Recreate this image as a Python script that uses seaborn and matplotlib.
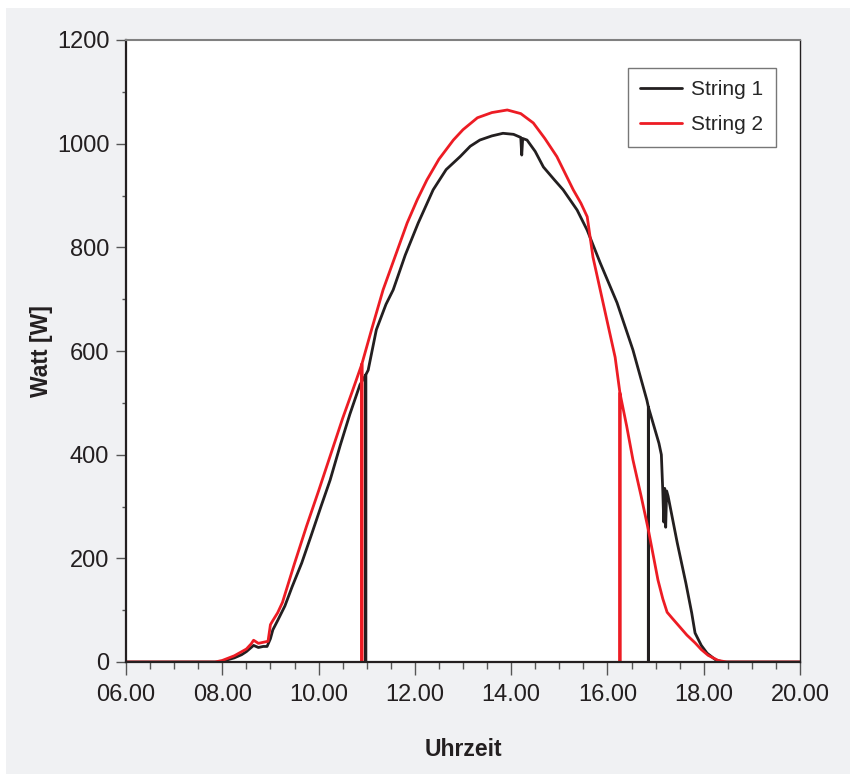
import seaborn as sns, pandas as pd
import matplotlib.pyplot as plt
from matplotlib.patches import Rectangle
from matplotlib.ticker import MultipleLocator

# Uhrzeit (hours) and power readings
time_s1 = [6.0, 7.95, 8.1, 8.25, 8.4, 8.5, 8.6, 8.65, 8.75, 8.85, 8.93, 9.0, 9.05, 9.15, 9.3,
           9.45, 9.65, 9.85, 10.05, 10.24, 10.45, 10.65, 10.86, 10.98, 10.98, 10.98, 11.03,
           11.2, 11.4, 11.55, 11.8, 12.07, 12.38, 12.65, 12.94, 13.15, 13.35, 13.6, 13.83,
           14.05, 14.2, 14.22, 14.24, 14.33, 14.5, 14.67, 14.9, 15.08, 15.37, 15.58, 15.85,
           16.2, 16.53, 16.82, 16.85, 16.85, 16.85, 17.07, 17.12, 17.15, 17.17, 17.19, 17.21,
           17.23, 17.26, 17.45, 17.63, 17.75, 17.82, 17.95, 18.07, 18.25, 18.4, 20.0]
watt_s1 = [0, 0, 4, 8, 14, 20, 28, 32, 28, 30, 30, 45, 62, 80, 108,
           145, 191, 245, 300, 351, 418, 478, 535, 554, 0, 554, 563,
           641, 690, 718, 785, 847, 911, 950, 975, 995, 1007, 1015, 1020,
           1018, 1012, 978, 1010, 1007, 985, 955, 930, 911, 872, 833, 770,
           693, 602, 505, 492, 0, 492, 422, 400, 330, 270, 335, 260,
           330, 320, 230, 152, 95, 56, 32, 17, 4, 0, 0]

time_s2 = [6.0, 7.85, 8.0, 8.25, 8.5, 8.6, 8.65, 8.75, 8.85, 8.95, 9.0, 9.05, 9.15, 9.25,
           9.5, 9.75, 10.0, 10.25, 10.5, 10.7, 10.9, 10.9, 10.9, 11.1, 11.34, 11.6, 11.84,
           12.05, 12.25, 12.5, 12.8, 13.0, 13.3, 13.6, 13.92, 14.2, 14.46, 14.7, 14.95, 15.29,
           15.45, 15.58, 15.7, 15.85, 16.0, 16.16, 16.26, 16.26, 16.26, 16.4, 16.53, 16.7,
           16.85, 17.05, 17.15, 17.24, 17.35, 17.5, 17.65, 17.82, 17.95, 18.09, 18.3, 18.48,
           20.0]
watt_s2 = [0, 0, 3, 12, 25, 35, 42, 36, 38, 40, 72, 80, 95, 115,
           190, 262, 330, 400, 470, 522, 575, 0, 575, 641, 718, 785, 847,
           892, 930, 970, 1007, 1027, 1050, 1060, 1065, 1058, 1040, 1010, 975, 911,
           885, 859, 781, 718, 655, 588, 519, 0, 519, 455, 390, 320,
           255, 158, 122, 96, 84, 68, 52, 37, 24, 13, 3, 0,
           0]

series_names = ["String 1", "String 2"]
series_colors = ["#231f20", "#ed1c24"]

x_ticks = [6, 8, 10, 12, 14, 16, 18, 20]
x_tick_labels = ["06.00", "08.00", "10.00", "12.00", "14.00", "16.00", "18.00", "20.00"]
y_ticks = [0, 200, 400, 600, 800, 1000, 1200]


def compose_data():
    rows = []
    for t, w in zip(time_s1, watt_s1):
        rows.append([series_names[0], t, w])
    for t, w in zip(time_s2, watt_s2):
        rows.append([series_names[1], t, w])
    return pd.DataFrame(rows, columns=["string", "time", "watt"])


sns.set_style("ticks")
plt.rcParams["font.family"] = ["Liberation Sans", "DejaVu Sans"]

fig = plt.figure(figsize=(8.5, 7.74), dpi=100, facecolor="white")
fig.patches.append(Rectangle((6 / 850, 0), 1, 766 / 774, transform=fig.transFigure,
                             facecolor="#f0f1f3", edgecolor="none", zorder=-10))
ax = fig.add_axes([126 / 850, 112 / 774, 674 / 850, 622 / 774])
ax.set_facecolor("white")

data = compose_data()
sns.lineplot(data=data, x="time", y="watt", hue="string", estimator=None, sort=False,
             palette=dict(zip(series_names, series_colors)), linewidth=2.0, ax=ax)

ax.set_xlim(6, 20)
ax.set_ylim(0, 1200)
ax.set_xticks(x_ticks)
ax.set_xticklabels(x_tick_labels)
ax.set_yticks(y_ticks)
ax.xaxis.set_minor_locator(MultipleLocator(0.5))
ax.yaxis.set_minor_locator(MultipleLocator(100))

ax.tick_params(axis="x", which="major", length=9, width=1, color="#555555",
               labelsize=17, pad=7, labelcolor="#231f20")
ax.tick_params(axis="x", which="minor", length=5, width=1, color="#555555")
ax.tick_params(axis="y", which="major", length=7, width=1, color="#555555",
               labelsize=17, pad=5, labelcolor="#231f20")
ax.tick_params(axis="y", which="minor", length=3, width=1, color="#555555")

for side in ["left", "bottom"]:
    ax.spines[side].set_color("#231f20")
    ax.spines[side].set_linewidth(1.6)
ax.spines["right"].set_color("#231f20")
ax.spines["right"].set_linewidth(1.0)
ax.spines["top"].set_color("#808080")
ax.spines["top"].set_linewidth(1.5)

ax.set_xlabel("Uhrzeit", fontsize=16.5, fontweight="bold", color="#231f20", labelpad=23)
ax.set_ylabel("Watt [W]", fontsize=16.5, fontweight="bold", color="#231f20", labelpad=3)

leg = ax.legend(loc="upper right", bbox_to_anchor=(0.964, 0.955), borderaxespad=0,
                fontsize=15, handlelength=2.0, handletextpad=0.45, fancybox=False,
                framealpha=1, edgecolor="#777777", borderpad=0.6, labelspacing=0.75)
leg.get_frame().set_linewidth(1.0)

fig.savefig("out.png", dpi=100, facecolor=fig.get_facecolor())
